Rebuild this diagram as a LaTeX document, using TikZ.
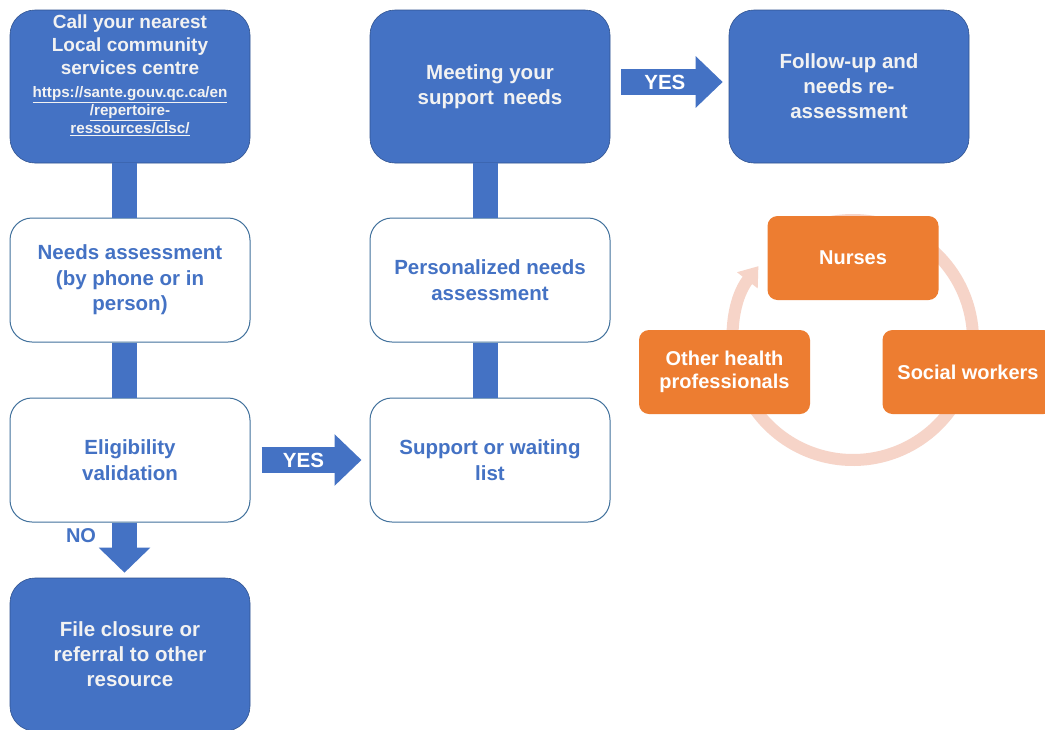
\documentclass[tikz,border=0pt]{standalone}
\usepackage{fontspec}
\setmainfont{Liberation Sans}
\usetikzlibrary{arrows.meta,calc}
\definecolor{obl}{HTML}{4472C4}
\definecolor{obd}{HTML}{2F528F}
\definecolor{wbd}{HTML}{41719C}
\definecolor{oor}{HTML}{ED7D31}
\definecolor{oring}{RGB}{246,212,200}
\definecolor{wtxt}{HTML}{F2F2F2}
\tikzset{
  bluebox/.style={draw=obd,line width=0.6pt,fill=obl,rounded corners=25pt,minimum width=240pt,minimum height=153pt,inner sep=0pt,align=center,text=wtxt,font=\fontsize{20.5}{25}\selectfont\bfseries},
  whitebox/.style={draw=wbd,line width=1pt,fill=white,rounded corners=22pt,minimum width=240pt,minimum height=124pt,inner sep=0pt,align=center,text=obl,font=\fontsize{20.5}{25.5}\selectfont\bfseries},
  orbox/.style={fill=oor,rounded corners=10pt,minimum width=171pt,minimum height=84pt,inner sep=0pt,align=center,text=white,font=\fontsize{20}{22.5}\selectfont\bfseries},
  bar/.style={obl,line width=25pt},
  blockarrow/.style={obl,line width=26pt,-{Triangle[width=50pt,length=27pt]}},
  arrlabel/.style={text=white,font=\fontsize{20.5}{22}\selectfont\bfseries},
  url/.style={font=\fontsize{15.2}{18}\selectfont\bfseries},
  ring/.style={oring,line width=12pt}
}
\begin{document}
\begin{tikzpicture}[x=1pt,y=-1pt]
\useasboundingbox (0,0) rectangle (1045,729);
\fill[white] (0,0) rectangle (1045,729);
% ring
\coordinate (rc) at (853,340);
\draw[ring] (rc) ++(232:120) arc[start angle=232,end angle=520,radius=120];
\draw[ring,-{Triangle[width=25pt,length=18pt]}] (rc) ++(160:120) arc[start angle=160,end angle=218,radius=120];
% left column
\node[bluebox] (A) at (130,86.5) {};
\node[align=center,text=wtxt,font=\fontsize{19}{23}\selectfont\bfseries] (At) at (130,45) {Call your nearest\\Local community\\services centre};
\node[align=center,text=wtxt,url] (Au) at (130,111) {\underline{https://sante.gouv.qc.ca/en}\\\underline{/repertoire-}\\\underline{ressources/clsc/}};
\node[whitebox] (B) at (130,280) {Needs assessment\\(by phone or in\\person)};
\node[whitebox] (C) at (130,460) {Eligibility\\validation};
\node[bluebox] (D) at (130,654.5) {File closure or\\referral to other\\resource};
% middle column
\node[bluebox] (E) at (490,86.5) {Meeting your\\support\, needs};
\node[whitebox] (F) at (490,280) {Personalized needs\\assessment};
\node[whitebox] (G) at (490,460) {Support or waiting\\list};
% right
\node[bluebox] (H) at (849,86.5) {Follow-up and\\needs re-\\assessment};
% connectors
\draw[bar] ($(A.south)+(-5.5,0)$) -- ($(B.north)+(-5.5,0)$);
\draw[bar] ($(B.south)+(-5.5,0)$) -- ($(C.north)+(-5.5,0)$);
\draw[bar] ($(E.south)+(-5,0)$) -- ($(F.north)+(-5,0)$);
\draw[bar] ($(F.south)+(-5,0)$) -- ($(G.north)+(-5,0)$);
\draw[obl,line width=25pt,-{Triangle[width=50pt,length=25pt]}] ($(C.south)+(-5.5,0)$) -- ($(D.north)+(-5.5,-5)$);
\node[text=obl,font=\fontsize{20}{22}\selectfont\bfseries] (no) at (81,536) {NO};
\draw[blockarrow] ($(C.east)+(11,0)$) -- ($(G.west)+(-8,0)$) node[arrlabel,pos=0.42] (yes1) {YES};
\draw[blockarrow] ($(E.east)+(11,-4.5)$) -- ($(H.west)+(-6,-4.5)$) node[arrlabel,pos=0.43] (yes2) {YES};
% orange
\node[orbox] (N) at (853,258) {Nurses};
\node[orbox] (O) at (724.5,372) {Other health\\professionals};
\node[orbox] (S) at (968,372) {Social workers};
\end{tikzpicture}
\end{document}
